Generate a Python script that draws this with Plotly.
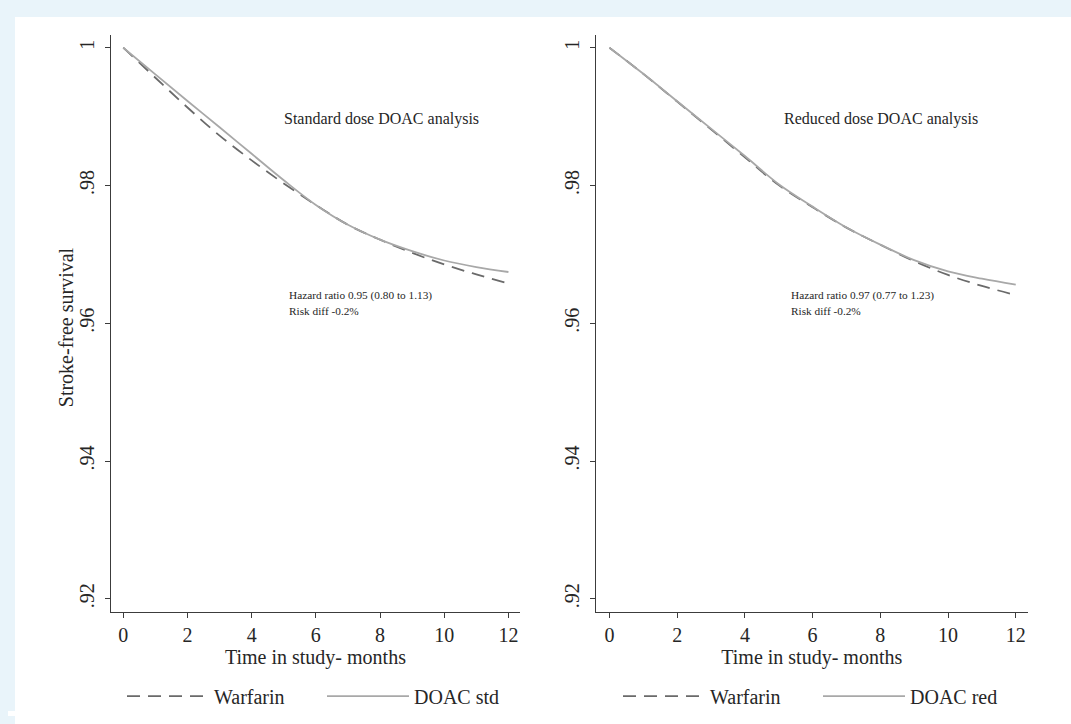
import plotly.graph_objects as go

# ---------------- data ----------------
months = [0, 1, 2, 3, 4, 5, 6, 7, 8, 9, 10, 11, 12]

# Standard dose DOAC analysis
warfarin_std = [1.0, 0.99564, 0.99132, 0.98724, 0.98364, 0.98029, 0.97717,
                0.97429, 0.97213, 0.97022, 0.96853, 0.96709, 0.96576]
doac_std = [1.0, 0.99612, 0.99227, 0.98845, 0.98460, 0.98076, 0.97717,
            0.97429, 0.97213, 0.97046, 0.96911, 0.96816, 0.96744]

# Reduced dose DOAC analysis
warfarin_red = [1.0, 0.99620, 0.99218, 0.98815, 0.98410, 0.98005, 0.97685,
                0.97388, 0.97140, 0.96902, 0.96701, 0.96542, 0.96410]
doac_red = [1.0, 0.99621, 0.99223, 0.98825, 0.98427, 0.98019, 0.97693,
            0.97391, 0.97141, 0.96916, 0.96752, 0.96647, 0.96561]

x_tickvals = [0, 2, 4, 6, 8, 10, 12]
y_tickvals = [0.92, 0.94, 0.96, 0.98, 1.0]
y_ticktext = [".92", ".94", ".96", ".98", "1"]

panel_titles = ["Standard dose DOAC analysis", "Reduced dose DOAC analysis"]
hr_texts = ["Hazard ratio 0.95 (0.80 to 1.13)", "Hazard ratio 0.97 (0.77 to 1.23)"]
rd_texts = ["Risk diff -0.2%", "Risk diff -0.2%"]
series_names = [("Warfarin", "DOAC std"), ("Warfarin", "DOAC red")]

# ---------------- layout helpers ----------------
OFF = 8                      # page body margin
W, H = 1071 - 2 * OFF, 724 - 2 * OFF
def px(x):
    return (x - OFF) / W
def py(y):
    return 1 - (y - OFF) / H

FONT = "Liberation Serif, Times New Roman, serif"
TXT = "#262626"
AX = "#3c3c3c"
DASH_COL = "#6a6a6a"
SOLID_COL = "#a8a8a8"
DASH = "13px,8px"
BLUE = "#e9f4fa"
FS = 20

fig = go.Figure()

data_sets = [(warfarin_std, doac_std), (warfarin_red, doac_red)]
for i, (warf, doac) in enumerate(data_sets):
    xa = "x" if i == 0 else "x2"
    ya = "y" if i == 0 else "y2"
    lg = "legend" if i == 0 else "legend2"
    fig.add_trace(go.Scatter(
        x=months, y=warf, mode="lines", name=series_names[i][0],
        line=dict(color=DASH_COL, width=1.8, dash=DASH, shape="spline"),
        xaxis=xa, yaxis=ya, legend=lg))
    fig.add_trace(go.Scatter(
        x=months, y=doac, mode="lines", name=series_names[i][1],
        line=dict(color=SOLID_COL, width=1.8, shape="spline"),
        xaxis=xa, yaxis=ya, legend=lg))

axis_common = dict(
    showline=True, linecolor=AX, linewidth=1.3,
    ticks="outside", ticklen=5, tickwidth=1.3, tickcolor=AX,
    showgrid=False, zeroline=False,
    tickfont=dict(family=FONT, size=FS, color=TXT),
)

xdom1 = [px(110.9), px(520)]
xdom2 = [px(595.9), px(1027.6)]
ydom = [py(616), py(35)]

legend_common = dict(orientation="h", xanchor="left", yanchor="middle",
                     entrywidth=103, entrywidthmode="pixels", itemwidth=82,
                     bgcolor="rgba(0,0,0,0)",
                     font=dict(family=FONT, size=FS, color=TXT))

xtitle = dict(text="Time in study- months", standoff=2,
              font=dict(family=FONT, size=FS, color=TXT))

fig.update_layout(
    width=W, height=H,
    margin=dict(l=0, r=0, t=0, b=0),
    paper_bgcolor="white",
    plot_bgcolor="rgba(0,0,0,0)",
    font=dict(family=FONT, color=TXT),
    xaxis=dict(domain=xdom1, range=[-0.386, 12.36], tickvals=x_tickvals,
               anchor="y", title=xtitle, **axis_common),
    yaxis=dict(domain=ydom, range=[0.91813, 1.00187], tickvals=y_tickvals,
               ticktext=y_ticktext, tickangle=-90, anchor="x",
               ticklabelstandoff=3, **axis_common),
    xaxis2=dict(domain=xdom2, range=[-0.40, 12.35], tickvals=x_tickvals,
                anchor="y2", title=xtitle, **axis_common),
    yaxis2=dict(domain=ydom, range=[0.91813, 1.00187], tickvals=y_tickvals,
                ticktext=y_ticktext, tickangle=-90, anchor="x2",
                ticklabelstandoff=3, **axis_common),
    legend=dict(x=px(122), y=py(701), **legend_common),
    legend2=dict(x=px(618), y=py(701), **legend_common),
    shapes=[
        # light-blue frame: top band and left band
        dict(type="rect", xref="paper", yref="paper", layer="below",
             x0=0.0, x1=1.0, y0=py(17), y1=1.0,
             fillcolor=BLUE, line=dict(width=0)),
        dict(type="rect", xref="paper", yref="paper", layer="below",
             x0=0.0, x1=px(15), y0=0.0, y1=1.0,
             fillcolor=BLUE, line=dict(width=0)),
    ],
)

annotations = [
    dict(text="Stroke-free survival", xref="paper", yref="paper",
         x=px(65.5), y=py(330), textangle=-90, showarrow=False,
         xanchor="center", yanchor="middle",
         font=dict(family=FONT, size=FS, color=TXT)),
]
title_x = [px(381), px(881)]
hr_x = [px(287), px(789)]
for i in range(2):
    annotations.append(dict(text=panel_titles[i], xref="paper", yref="paper",
                            x=title_x[i], y=py(120), showarrow=False,
                            xanchor="center", yanchor="middle",
                            font=dict(family=FONT, size=16, color=TXT)))
    annotations.append(dict(text=hr_texts[i], xref="paper", yref="paper",
                            x=hr_x[i], y=py(298), showarrow=False,
                            xanchor="left", yanchor="middle",
                            font=dict(family=FONT, size=11.3, color=TXT)))
    annotations.append(dict(text=rd_texts[i], xref="paper", yref="paper",
                            x=hr_x[i], y=py(313), showarrow=False,
                            xanchor="left", yanchor="middle",
                            font=dict(family=FONT, size=11.3, color=TXT)))
fig.update_layout(annotations=annotations)

# page background outside the figure: light-blue band at top and left
page_bg = ("linear-gradient({b},{b}) 0 0/100% 17px no-repeat, "
           "linear-gradient({b},{b}) 0 0/15px 100vh no-repeat, #ffffff").format(b=BLUE)
fig.write_html(
    "out.html",
    post_script=("document.documentElement.style.minHeight='100vh';"
                 "document.body.style.background='%s';" % page_bg),
)
